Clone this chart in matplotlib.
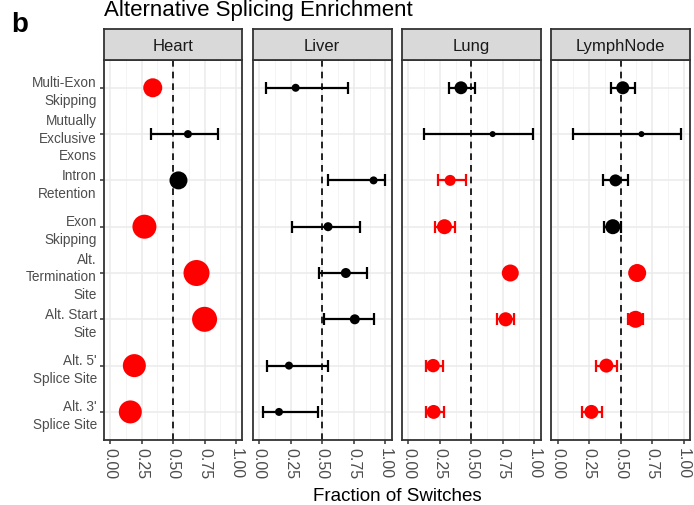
import numpy as np
import matplotlib.pyplot as plt

plt.rcParams['font.family'] = ['Liberation Sans', 'DejaVu Sans']

categories = ['Multi-Exon\nSkipping', 'Mutually\nExclusive\nExons', 'Intron\nRetention',
              'Exon\nSkipping', 'Alt.\nTermination\nSite', 'Alt. Start\nSite',
              "Alt. 5'\nSplice Site", "Alt. 3'\nSplice Site"]
tissues = ['Heart', 'Liver', 'Lung', 'LymphNode']
xticks = [0.0, 0.25, 0.5, 0.75, 1.0]
xticklabels = ['0.00', '0.25', '0.50', '0.75', '1.00']

# fraction of switches, confidence interval, number of switches, significant
heart_frac = [0.339, 0.618, 0.543, 0.273, 0.686, 0.750, 0.193, 0.161]
heart_lo = [0.320, 0.326, 0.525, 0.255, 0.670, 0.735, 0.175, 0.145]
heart_hi = [0.360, 0.853, 0.562, 0.290, 0.702, 0.765, 0.210, 0.178]
heart_n = [542, 96, 486, 864, 1014, 938, 794, 794]
heart_sig = [True, False, False, True, True, True, True, True]

liver_frac = [0.289, np.nan, 0.907, 0.546, 0.687, 0.758, 0.236, 0.157]
liver_lo = [0.056, np.nan, 0.546, 0.263, 0.472, 0.510, 0.064, 0.029]
liver_hi = [0.705, np.nan, 1.000, 0.800, 0.851, 0.912, 0.546, 0.470]
liver_n = [96, 0, 96, 122, 150, 150, 96, 96]
liver_sig = [False, False, False, False, False, False, False, False]

lung_frac = [0.417, 0.668, 0.331, 0.286, 0.808, 0.771, 0.196, 0.200]
lung_lo = [0.324, 0.125, 0.234, 0.212, 0.780, 0.703, 0.140, 0.140]
lung_hi = [0.530, 0.986, 0.459, 0.366, 0.835, 0.840, 0.278, 0.286]
lung_n = [250, 54, 182, 338, 434, 300, 270, 290]
lung_sig = [False, False, True, True, True, True, True, True]

lymph_frac = [0.517, 0.665, 0.459, 0.438, 0.631, 0.618, 0.387, 0.268]
lymph_lo = [0.427, 0.120, 0.361, 0.366, 0.605, 0.557, 0.305, 0.191]
lymph_hi = [0.615, 0.981, 0.562, 0.502, 0.658, 0.681, 0.475, 0.355]
lymph_n = [254, 54, 216, 338, 486, 434, 294, 294]
lymph_sig = [False, False, False, False, True, True, True, True]

data = {
    'Heart': (heart_frac, heart_lo, heart_hi, heart_n, heart_sig),
    'Liver': (liver_frac, liver_lo, liver_hi, liver_n, liver_sig),
    'Lung': (lung_frac, lung_lo, lung_hi, lung_n, lung_sig),
    'LymphNode': (lymph_frac, lymph_lo, lymph_hi, lymph_n, lymph_sig),
}

W, H = 694, 506
fig = plt.figure(figsize=(W / 100, H / 100), dpi=100)

y = np.arange(len(categories))
left0, step, pw = 103.7, 149.2, 138.7
top, bottom, strip_top = 61, 440.7, 30

for k, t in enumerate(tissues):
    x0 = left0 + k * step
    ax = fig.add_axes([x0 / W, 1 - bottom / H, pw / W, (bottom - top) / H])
    frac, lo, hi, n, sig = [np.array(a, dtype=float) for a in data[t]]
    cols = np.where(np.array(data[t][4]), 'red', 'black')
    diam = np.sqrt(n / 1.5)  # pixels

    for i in range(len(categories)):
        if np.isnan(frac[i]):
            continue
        ax.errorbar(frac[i], y[i], xerr=[[frac[i] - lo[i]], [hi[i] - frac[i]]],
                    fmt='none', ecolor=cols[i], elinewidth=1.6, capsize=4.3,
                    capthick=1.6, zorder=3)
    ok = ~np.isnan(frac)
    ax.scatter(frac[ok], y[ok], s=(diam[ok] * 0.72) ** 2, c=cols[ok],
               linewidths=0, zorder=4)

    ax.axvline(0.5, color='black', lw=1.2, ls=(0, (4, 3)), zorder=2)

    ax.set_xlim(-0.05, 1.05)
    ax.set_ylim(len(categories) - 0.4, -0.6)
    ax.set_xticks(xticks)
    ax.set_xticklabels(xticklabels, rotation=-90, va='top', ha='center')
    ax.set_xticks([0.125, 0.375, 0.625, 0.875], minor=True)
    ax.set_yticks(y)
    ax.grid(True, which='major', color='#EBEBEB', lw=1.1, zorder=0)
    ax.grid(True, which='minor', axis='x', color='#F2F2F2', lw=0.6, zorder=0)
    ax.set_axisbelow(True)
    ax.tick_params(which='minor', length=0)
    ax.tick_params(axis='both', which='major', length=3, width=1.1,
                   color='#333333', labelcolor='#4D4D4D', pad=2)
    ax.tick_params(axis='x', labelsize=11.5)
    if k == 0:
        ax.set_yticklabels(categories, fontsize=9.8, ha='right',
                           linespacing=1.35, multialignment='right')
    else:
        ax.tick_params(axis='y', length=0, labelleft=False)
    for sp in ax.spines.values():
        sp.set_color('#333333')
        sp.set_linewidth(1.3)

    sax = fig.add_axes([x0 / W, 1 - top / H, pw / W, (top - strip_top) / H])
    sax.set_facecolor('#D9D9D9')
    sax.set_xticks([])
    sax.set_yticks([])
    for sp in sax.spines.values():
        sp.set_color('#333333')
        sp.set_linewidth(1.3)
    sax.text(0.5, 0.48, t, transform=sax.transAxes, ha='center', va='center',
             fontsize=12, color='#1A1A1A')

fig.text(104 / W, 1 - 16 / H, 'Alternative Splicing Enrichment', fontsize=16,
         va='baseline', ha='left')
fig.text(11 / W, 1 - 32 / H, 'b', fontsize=20, fontweight='bold',
         va='baseline', ha='left')
fig.text((left0 + 3 * step + pw + left0) / 2 / W, 1 - 501.5 / H,
         'Fraction of Switches', fontsize=13.5, ha='center', va='baseline')

fig.savefig('out.png', dpi=100)
